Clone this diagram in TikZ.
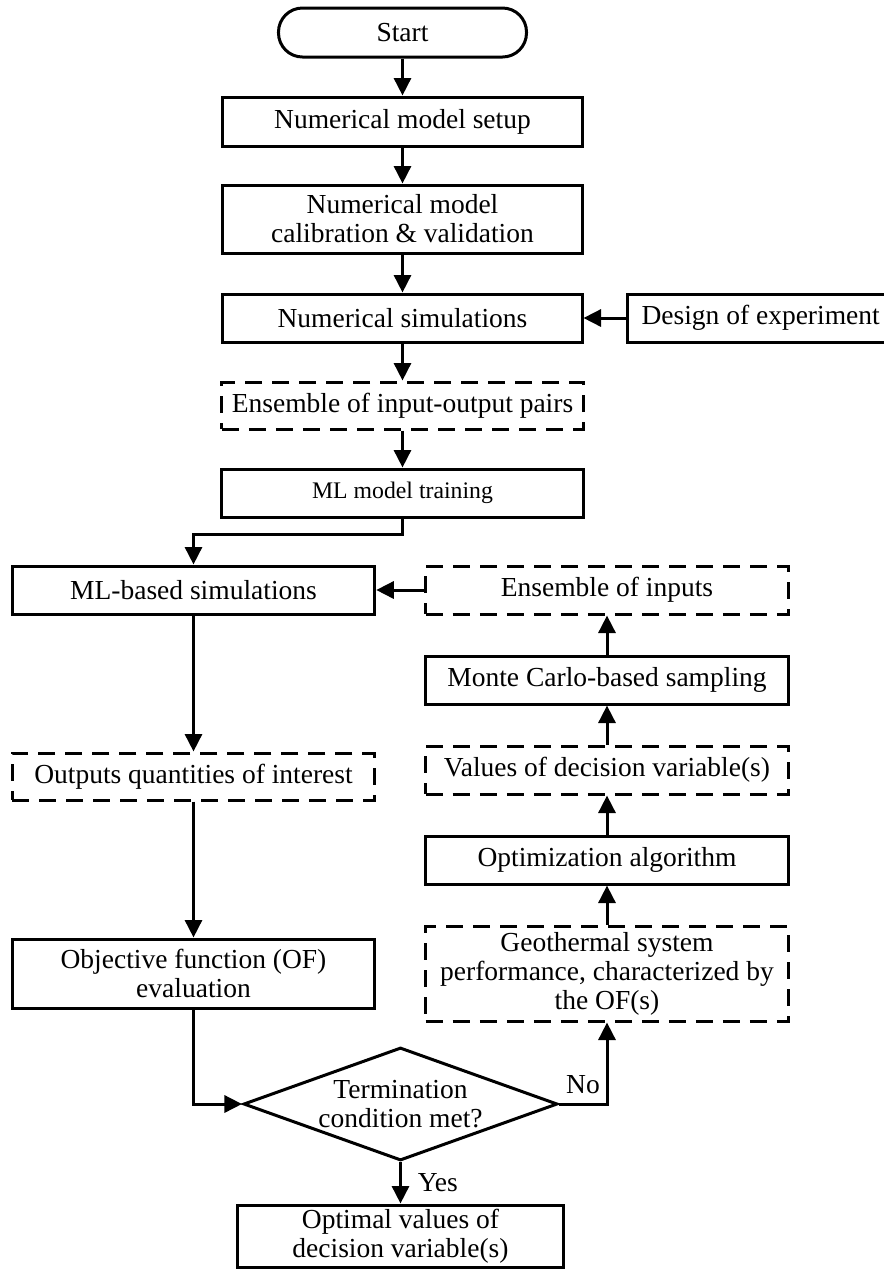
\documentclass[tikz,border=0pt]{standalone}
\usepackage{fontspec}
\setmainfont{Liberation Serif}
\usetikzlibrary{arrows.meta,shapes.geometric}

\begin{document}
\begin{tikzpicture}[x=0.4pt, y=-0.4pt, line width=1.2pt, >={Triangle[length=7pt,width=6.8pt]},
    every node/.style={font=\fontsize{11}{11.6}\selectfont},
    box/.style={draw, rectangle, align=center, inner sep=1pt, minimum width=145pt, minimum height=19.2pt},
    dbox/.style={box, dash pattern=on 6.8pt off 4pt},
    startbox/.style={box, rounded corners=9.6pt, minimum width=99.2pt, minimum height=19.6pt},
    decision/.style={draw, diamond, inner sep=0pt, minimum width=125.6pt, minimum height=45.2pt}]
    \useasboundingbox (0,0) rectangle (884,1269);

    % main column
    \node[startbox] (start) at (402.5,32.5) {Start};
    \node[box, minimum width=143.6pt, minimum height=19.6pt] (setup) at (402.5,121.5) {Numerical model setup};
    \node[box, minimum width=143.6pt, minimum height=27.2pt] (calib) at (402.5,219) {Numerical model\\calibration \& validation};
    \node[box, minimum width=143.6pt] (numsim) at (402.5,318) {Numerical simulations};
    \node[box, anchor=west, minimum width=0pt, inner xsep=5.6pt, text width=100pt, align=flush left] (doe) at (626,318) {Design of experiment};
    \node[dbox, minimum width=144.4pt, minimum height=18.8pt] (eio) at (402.5,405.5) {Ensemble of input-output pairs};
    \node[box, font=\fontsize{9.5}{11}\selectfont] (mltrain) at (402.5,493) {ML model training};

    % left column
    \node[box] (mlsim) at (193.5,590) {ML-based simulations};
    \node[dbox, minimum height=18.8pt] (outq) at (193.5,776.5) {Outputs quantities of interest};
    \node[box, minimum height=27.6pt] (obj) at (193.5,973.5) {Objective function (OF)\\evaluation};

    % right column
    \node[dbox] (einp) at (607,590) {Ensemble of inputs};
    \node[box] (mc) at (607,680) {Monte Carlo-based sampling};
    \node[dbox] (vals) at (607,770) {Values of decision variable(s)};
    \node[box] (opt) at (607,860) {Optimization algorithm};
    \node[dbox, minimum height=38pt] (geo) at (607,973.5) {Geothermal system\\performance, characterized by\\the OF(s)};

    % bottom
    \node[decision, label={[align=center]center:Termination\\condition met?}] (cond) at (400.5,1104) {};
    \node[box, minimum width=130pt, minimum height=24.8pt] (optv) at (400.5,1236) {Optimal values of\\decision variable(s)};

    \draw[->] (start) -- (setup);
    \draw[->] (setup) -- (calib);
    \draw[->] (calib) -- (numsim);
    \draw[->] (doe) -- (numsim);
    \draw[->] (numsim) -- (eio);
    \draw[->] (eio) -- (mltrain);
    \draw[->] (mltrain.south) -- ++(0,16) -| (mlsim.north);
    \draw[->] (einp) -- (mlsim);
    \draw[->] (mlsim) -- (outq);
    \draw[->] (outq) -- (obj);
    \draw[->] (obj.south) |- (cond.west);
    \draw[->] (cond.east) -| node[pos=0.25, above] {No} (geo.south);
    \draw[->] (geo) -- (opt);
    \draw[->] (opt) -- (vals);
    \draw[->] (vals) -- (mc);
    \draw[->] (mc) -- (einp);
    \draw[->] (cond) -- node[right, xshift=3pt] {Yes} (optv);
\end{tikzpicture}
\end{document}
